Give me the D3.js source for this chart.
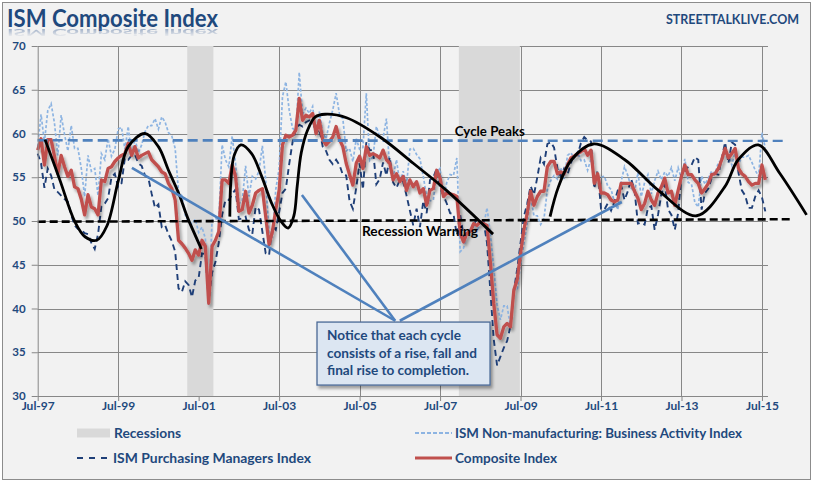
<!DOCTYPE html>
<html><head><meta charset="utf-8">
<script src="https://cdn.jsdelivr.net/npm/d3@7"></script>
<style>html,body{margin:0;padding:0;background:#fff;}svg{display:block;}</style>
</head><body>
<svg id="chart" width="816" height="483"></svg>
<script>
// ---- data (month index 0 = Jul-1997, monthly) ----
const tickMonths = [0,24,48,72,96,120,144,168,192,216];
const tickLabels = ["Jul-97","Jul-99","Jul-01","Jul-03","Jul-05","Jul-07","Jul-09","Jul-11","Jul-13","Jul-15"];
const yTicks = [30,35,40,45,50,55,60,65,70];
const recessions = [[44.6,52.4],[125.6,143.8]];

const composite = [
58.1,59.4,56.4,59.3,59.3,57.4,
55.4,57.5,56.2,55.1,55.8,53.9,53.7,52.5,50.7,53.0,51.6,51.4,
50.7,54.7,54.5,56.0,56.2,56.8,57.2,57.5,57.7,58.9,57.5,58.5,
57.2,57.5,57.7,57.9,57.0,56.6,56.2,55.6,55.4,54.3,53.7,52.4,
47.8,47.4,46.9,46.3,45.5,46.7,46.1,47.8,47.1,40.6,47.1,47.8,
48.8,54.7,54.7,54.3,56.4,55.1,51.1,51.3,53.4,50.9,51.8,53.2,
53.5,53.7,50.5,47.3,48.8,51.3,53.5,58.7,59.8,59.6,59.8,60.4,
64.0,61.5,62.1,61.9,62.3,60.0,61.5,59.3,58.7,59.1,59.6,60.8,
59.3,58.5,56.6,55.3,54.1,56.6,57.4,56.0,58.5,57.5,57.7,57.5,
57.2,58.1,57.0,56.6,54.7,55.4,54.5,55.1,53.5,54.7,53.9,54.5,
53.2,53.7,51.8,53.5,53.7,55.8,54.9,52.8,53.2,53.1,53.0,52.8,
48.6,47.6,48.6,48.8,49.7,49.5,49.9,49.7,49.5,45.3,40.6,37.0,
36.6,37.9,38.3,37.9,42.1,43.3,46.3,49.0,50.9,53.4,51.8,52.8,
53.4,53.4,56.2,56.8,56.8,55.4,55.6,55.4,56.4,57.2,57.4,57.7,
57.9,58.3,57.5,58.1,54.3,55.4,53.2,53.2,53.0,52.4,52.2,52.4,
54.3,54.3,54.3,54.3,53.4,52.6,51.3,52.0,53.4,52.4,51.8,53.2,
53.9,54.9,53.2,53.4,51.8,53.5,55.1,56.4,55.3,55.3,54.7,54.3,
53.2,53.7,54.3,55.3,55.4,56.0,57.0,58.3,57.2,57.7,58.3,56.0,
55.4,55.1,54.5,54.1,54.3,54.3,56.4,54.7];

const pmi = [
57.7,56.6,53.8,56.0,55.2,53.6,
53.3,52.9,52.5,52.2,50.7,49.5,49.1,49.0,48.6,48.5,47.5,46.8,
48.5,51.7,52.0,52.6,55.0,55.4,53.9,54.3,57.2,57.0,57.5,57.6,
56.6,56.3,55.2,54.9,53.1,51.5,51.9,49.3,49.5,48.5,47.7,46.5,
42.3,41.9,43.1,42.7,41.3,43.2,43.5,46.3,46.2,40.8,44.1,45.3,
47.5,50.7,52.4,52.4,53.1,53.6,50.2,50.3,50.5,49.0,48.5,51.6,
51.3,48.8,46.3,46.1,49.4,49.0,51.0,53.2,53.7,56.5,59.0,60.5,
61.0,60.8,61.3,61.5,61.5,60.0,60.5,58.5,58.0,57.0,56.5,57.0,
56.4,55.3,55.2,52.3,51.4,53.8,56.6,53.6,59.0,58.1,58.1,54.2,
54.8,56.7,55.2,57.3,54.4,53.8,54.7,54.5,52.9,51.2,49.5,51.4,
49.3,52.3,50.9,54.7,55.0,56.0,53.8,52.9,52.0,50.9,50.8,48.4,
50.7,48.3,48.6,48.6,49.6,50.2,50.0,49.9,47.5,42.0,36.5,33.5,
34.5,35.5,36.3,38.0,42.0,44.5,47.5,50.5,52.0,54.0,53.0,55.0,
57.2,56.5,58.8,59.0,58.4,56.0,55.1,56.0,55.3,56.6,57.6,57.5,
58.9,59.6,59.2,59.1,53.7,55.8,51.4,51.3,52.0,51.2,52.2,53.5,
54.1,52.4,53.4,54.8,53.5,49.7,49.8,49.6,51.5,51.7,49.0,50.7,
53.1,54.2,51.3,50.7,49.0,50.9,55.4,55.7,56.2,56.4,57.3,57.0,
51.3,53.2,53.7,54.9,55.4,55.3,57.1,59.0,56.6,59.0,58.7,55.5,
53.5,52.9,51.5,51.5,52.8,53.5,52.7,51.1];

const nmi = [
58.5,62.2,59.0,62.6,63.4,61.2,
57.5,62.1,59.9,58.0,60.9,58.3,58.3,56.0,52.8,57.5,55.7,56.0,
52.9,57.7,57.0,59.4,57.4,58.2,60.5,60.7,58.2,60.8,57.5,59.4,
57.8,58.7,60.2,60.9,60.9,61.7,60.5,61.9,61.3,60.1,59.7,58.3,
53.3,52.9,50.7,49.9,49.7,50.2,48.7,49.3,48.0,40.4,50.1,50.3,
50.1,58.7,57.0,56.2,59.7,56.6,52.0,52.3,56.3,52.8,55.1,54.8,
55.7,58.6,54.7,48.5,48.2,53.6,56.0,64.2,65.9,62.7,60.6,60.3,
67.0,62.2,62.9,62.3,63.1,60.0,62.5,60.1,59.4,61.2,62.7,64.6,
62.2,61.7,58.0,58.3,56.8,59.4,58.2,58.4,64.6,56.9,57.3,60.8,
59.6,59.5,61.7,55.9,55.0,57.0,54.3,55.7,54.1,58.2,58.3,57.6,
57.1,55.1,52.7,52.3,52.4,55.6,56.0,52.7,54.4,55.3,55.2,57.2,
46.5,46.9,48.6,49.0,49.8,48.8,49.8,49.5,51.5,48.6,44.7,40.5,
38.7,40.3,40.3,37.8,42.2,42.1,45.1,47.5,49.8,52.8,50.6,50.6,
49.6,50.3,53.6,54.6,55.2,54.8,56.1,54.8,57.5,57.8,57.2,57.9,
56.9,57.0,55.8,57.1,54.9,55.0,55.0,55.1,54.0,53.6,52.2,51.3,
54.5,56.2,55.2,53.8,53.3,55.5,52.8,54.4,55.3,53.1,54.6,55.7,
54.7,55.6,55.1,56.1,54.6,56.1,54.8,57.1,54.4,54.2,52.1,51.6,
55.1,54.2,54.9,55.7,55.4,56.7,56.9,57.6,57.8,56.4,57.9,56.5,
57.3,57.3,57.5,56.7,55.8,55.1,60.1,58.3];

// annotation shapes, in [month, value]
const cycleCurves = [
  [[2.2,59.3],[6.6,54.7],[11.1,49.9],[14.1,48.2],[17.6,47.8],[20.6,49.4],[24.1,54.7],[27.0,58.5],[32.0,60.0],[36.0,58.5],[39.0,55.8],[42.0,53.2],[45.0,50.1],[48.8,46.8]],
  [[57.3,50.5],[57.6,54.5],[58.6,57.5],[60.6,58.7],[63.8,57.7],[66.8,55.1],[69.8,52.0],[72.5,50.0],[74.7,49.2],[76.4,50.6],[77.4,54.0],[78.6,57.8],[80.5,60.4],[82.8,61.9],[85.7,62.2],[92.1,61.8],[102.1,59.6],[112.0,56.6],[121.9,53.5],[135.8,48.5]],
  [[152.8,50.5],[155.3,53.9],[159.2,57.0],[165.7,58.8],[175.1,57.0],[185.1,53.5],[196.5,50.6],[204.9,53.9],[208.9,57.0],[214.9,58.7],[221.3,55.45],[229.3,50.7]]
];
const cyclePeakLine = [[0,59.25],[222.2,59.1]];
const warningLine = [[0,49.92],[225.2,50.2]];
const pointerLines = [
  [[28.1,56.06],[106.6,38.6]],
  [[78.8,52.97],[106.6,38.6]],
  [[174.2,52.17],[108.0,38.6]]
];
const noteBox = {m0:83.3, m1:134.9, v0:38.45, v1:31.25};
const noteLines = ["Notice that  each cycle","consists of a rise, fall and","final rise to completion."];

// ---- drawing ----
const svg = d3.select("#chart");
const x = d3.scaleLinear().domain([0,217.8]).range([37.7,768]);
const y = d3.scaleLinear().domain([30,70]).range([396,46]);
const navy = "#1f497d";
const font = "Lato, 'Open Sans', sans-serif";

const defs = svg.append("defs");
const sh = defs.append("filter").attr("id","shadow").attr("x","-5%").attr("y","-5%").attr("width","110%").attr("height","120%");
sh.append("feGaussianBlur").attr("in","SourceAlpha").attr("stdDeviation",1.6).attr("result","b");
sh.append("feOffset").attr("in","b").attr("dx",2).attr("dy",3).attr("result","o");
sh.append("feComponentTransfer").attr("in","o").attr("result","t").append("feFuncA").attr("type","linear").attr("slope",0.35);
const mg = sh.append("feMerge"); mg.append("feMergeNode").attr("in","t"); mg.append("feMergeNode").attr("in","SourceGraphic");

const grad = defs.append("linearGradient").attr("id","reflGrad").attr("gradientUnits","userSpaceOnUse")
  .attr("x1",0).attr("y1",29).attr("x2",0).attr("y2",37);
grad.append("stop").attr("offset","0%").attr("stop-color","#fff").attr("stop-opacity",0.5);
grad.append("stop").attr("offset","100%").attr("stop-color","#fff").attr("stop-opacity",0);
const mask = defs.append("mask").attr("id","reflMask").attr("maskUnits","userSpaceOnUse")
  .attr("x",0).attr("y",28).attr("width",300).attr("height",11);
mask.append("rect").attr("x",0).attr("y",28).attr("width",300).attr("height",11).attr("fill","url(#reflGrad)");

// frame
svg.append("rect").attr("x",2.5).attr("y",2.5).attr("width",808).attr("height",477)
  .attr("fill","#f2f2f2").attr("stroke","#8c8c8c").attr("stroke-width",1);

// horizontal gridlines
svg.append("g").selectAll("line").data(yTicks.filter(d=>d>30)).join("line")
  .attr("x1",x(0)).attr("x2",x(217.8)).attr("y1",d=>Math.round(y(d))+0.5).attr("y2",d=>Math.round(y(d))+0.5)
  .attr("stroke","#878787").attr("stroke-width",1);
// vertical gridlines
svg.append("g").selectAll("line").data(tickMonths.slice(1)).join("line")
  .attr("x1",d=>Math.round(x(d))+0.5).attr("x2",d=>Math.round(x(d))+0.5).attr("y1",y(70)).attr("y2",y(30))
  .attr("stroke","#878787").attr("stroke-width",1);

// recessions
svg.append("g").selectAll("rect").data(recessions).join("rect")
  .attr("x",d=>x(d[0])).attr("width",d=>x(d[1])-x(d[0])).attr("y",y(70)).attr("height",y(30)-y(70))
  .attr("fill","#d9d9d9");

const line = d3.line().x((d,i)=>x(i)).y(d=>y(d));
svg.append("path").datum(nmi).attr("d",line).attr("fill","none")
  .attr("stroke","#8db4e2").attr("stroke-width",1.7).attr("stroke-dasharray","3,2");
svg.append("path").datum(pmi).attr("d",line).attr("fill","none")
  .attr("stroke","#1f3f78").attr("stroke-width",1.9).attr("stroke-dasharray","6,4");
svg.append("path").datum(composite).attr("d",line).attr("fill","none")
  .attr("stroke","#c0504d").attr("stroke-width",3.3).attr("stroke-linejoin","round").attr("filter","url(#shadow)");

const pl = d3.line().x(d=>x(d[0])).y(d=>y(d[1]));
svg.append("path").datum(cyclePeakLine).attr("d",pl).attr("stroke","#4f81bd").attr("stroke-width",3)
  .attr("stroke-dasharray","10,5").attr("fill","none").attr("filter","url(#shadow)");
svg.append("path").datum(warningLine).attr("d",pl).attr("stroke","#000").attr("stroke-width",2.6)
  .attr("stroke-dasharray","8,4").attr("fill","none");

const cl = d3.line().x(d=>x(d[0])).y(d=>y(d[1])).curve(d3.curveCatmullRom.alpha(0.5));
svg.append("g").selectAll("path").data(cycleCurves).join("path").attr("d",cl)
  .attr("fill","none").attr("stroke","#000").attr("stroke-width",2.8).attr("stroke-linecap","butt");

svg.append("g").selectAll("path").data(pointerLines).join("path").attr("d",pl)
  .attr("fill","none").attr("stroke","#4f81bd").attr("stroke-width",2.6);

// note box
const bx = x(noteBox.m0), by = y(noteBox.v0), bw = x(noteBox.m1)-x(noteBox.m0), bh = y(noteBox.v1)-y(noteBox.v0);
svg.append("rect").attr("x",bx).attr("y",by).attr("width",bw).attr("height",bh)
  .attr("fill","#dce6f2").attr("stroke","#4a6996").attr("stroke-width",1.3).attr("filter","url(#shadow)");
svg.append("g").selectAll("text").data(noteLines).join("text")
  .attr("x",bx+10).attr("y",(d,i)=>by+18+i*17.7)
  .attr("font-family",font).attr("font-weight","bold").attr("font-size",13).attr("fill",navy)
  .attr("textLength",(d,i)=>[134,150,142][i]).attr("lengthAdjust","spacingAndGlyphs")
  .text(d=>d);

// annotation labels
svg.append("text").attr("x",x(124.4)).attr("y",y(59.71)).attr("font-family",font).attr("font-size",13.5)
  .attr("font-weight","bold").attr("fill","#000").attr("textLength",70).attr("lengthAdjust","spacingAndGlyphs").text("Cycle Peaks");
svg.append("text").attr("x",x(96.7)).attr("y",y(48.34)).attr("font-family",font).attr("font-size",13.5)
  .attr("font-weight","bold").attr("fill","#000").attr("textLength",116).attr("lengthAdjust","spacingAndGlyphs").text("Recession Warning");

// axes
const xAxis = svg.append("g").attr("transform",`translate(0,${y(30)})`)
  .call(d3.axisBottom(x).tickValues(tickMonths).tickFormat((d,i)=>tickLabels[i]).tickSize(5).tickSizeOuter(0));
xAxis.select(".domain").attr("stroke","#878787").attr("d",`M${x(0)},0.5H${x(217.8)}`);
xAxis.selectAll(".tick line").attr("stroke","#878787");
xAxis.selectAll(".tick text").attr("y",14).attr("dy",0).attr("font-family",font).attr("font-weight","bold")
  .attr("font-size",12).attr("fill",navy);

const yAxis = svg.append("g").attr("transform",`translate(${x(0)},0)`)
  .call(d3.axisLeft(y).tickValues(yTicks).tickSize(6).tickPadding(6).tickSizeOuter(0));
yAxis.select(".domain").attr("stroke","#878787");
yAxis.selectAll(".tick line").attr("stroke","#878787");
yAxis.selectAll(".tick text").attr("font-family",font).attr("font-weight","bold").attr("font-size",11.5).attr("fill",navy);

// legend
const lg = svg.append("g").attr("font-family",font).attr("font-weight","bold").attr("font-size",12.5).attr("fill",navy);
lg.append("rect").attr("x",77).attr("y",428.5).attr("width",33).attr("height",9).attr("fill","#d9d9d9");
lg.append("text").attr("x",114).attr("y",437.5).attr("textLength",67).attr("lengthAdjust","spacingAndGlyphs").text("Recessions");
lg.append("line").attr("x1",415).attr("x2",452).attr("y1",433).attr("y2",433).attr("stroke","#8db4e2").attr("stroke-width",1.8).attr("stroke-dasharray","4,2");
lg.append("text").attr("x",455).attr("y",437.5).attr("textLength",287).attr("lengthAdjust","spacingAndGlyphs").text("ISM Non-manufacturing: Business Activity Index");
lg.append("line").attr("x1",77).attr("x2",110).attr("y1",458).attr("y2",458).attr("stroke","#1f3f78").attr("stroke-width",2).attr("stroke-dasharray","6,6");
lg.append("text").attr("x",113).attr("y",462.5).attr("textLength",198).attr("lengthAdjust","spacingAndGlyphs").text("ISM Purchasing Managers Index");
lg.append("line").attr("x1",415).attr("x2",452).attr("y1",458).attr("y2",458).attr("stroke","#c0504d").attr("stroke-width",3);
lg.append("text").attr("x",455).attr("y",462.5).attr("textLength",102).attr("lengthAdjust","spacingAndGlyphs").text("Composite Index");

// title with reflection
svg.append("text").attr("x",7).attr("y",27).attr("font-family",font).attr("font-weight","bold").attr("font-size",24)
  .attr("fill",navy).attr("textLength",211).attr("lengthAdjust","spacingAndGlyphs").text("ISM Composite Index");
svg.append("g").attr("mask","url(#reflMask)").append("text")
  .attr("transform","translate(0,29) scale(1,-0.42)").attr("x",7).attr("y",0)
  .attr("font-family",font).attr("font-weight","bold").attr("font-size",24)
  .attr("fill","#4f6f9f").attr("textLength",211).attr("lengthAdjust","spacingAndGlyphs").text("ISM Composite Index");

svg.append("text").attr("x",666).attr("y",23.5).attr("font-family",font).attr("font-weight","bold").attr("font-size",13.5)
  .attr("fill",navy).attr("textLength",133).attr("lengthAdjust","spacingAndGlyphs").text("STREETTALKLIVE.COM");
</script>
</body></html>
